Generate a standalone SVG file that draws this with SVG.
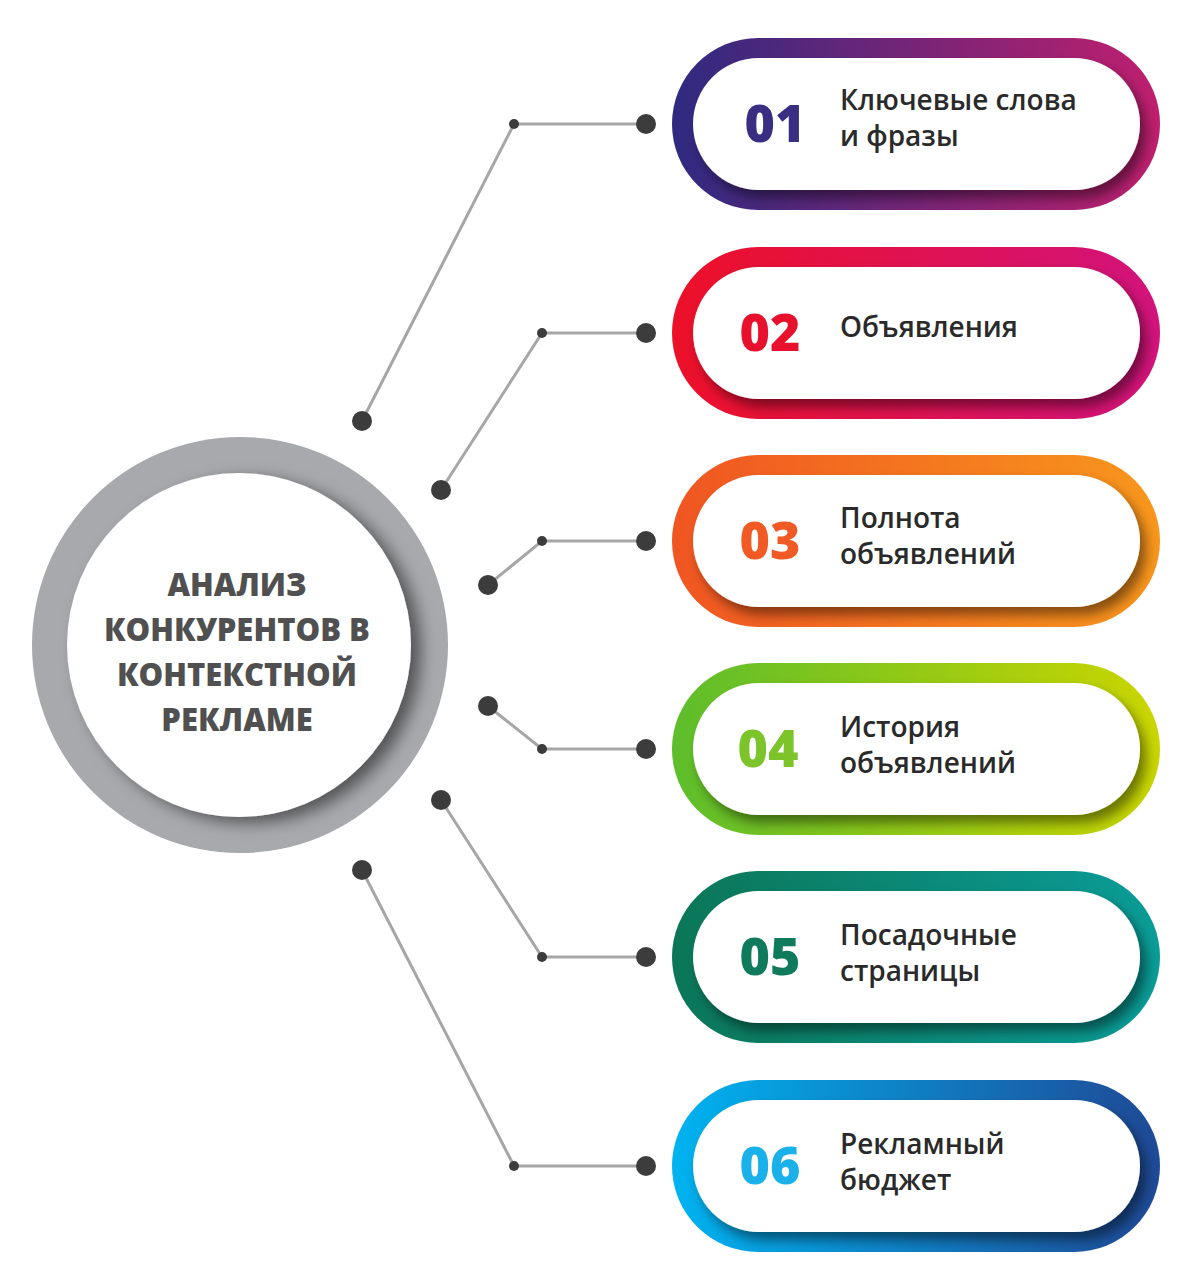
<svg xmlns="http://www.w3.org/2000/svg" width="1200" height="1280" viewBox="0 0 1200 1280">
<defs>
<linearGradient id="g1" x1="0" x2="1"><stop offset="0" stop-color="#2e2a80"/><stop offset="1" stop-color="#c01f6e"/></linearGradient>
<linearGradient id="g2" x1="0" x2="1"><stop offset="0" stop-color="#ec1028"/><stop offset="1" stop-color="#d2137c"/></linearGradient>
<linearGradient id="g3" x1="0" x2="1"><stop offset="0" stop-color="#f05522"/><stop offset="1" stop-color="#f8971c"/></linearGradient>
<linearGradient id="g4" x1="0" x2="1"><stop offset="0" stop-color="#5dbd2b"/><stop offset="1" stop-color="#cad600"/></linearGradient>
<linearGradient id="g5" x1="0" x2="1"><stop offset="0" stop-color="#0b7657"/><stop offset="1" stop-color="#0a9c98"/></linearGradient>
<linearGradient id="g6" x1="0" x2="1"><stop offset="0" stop-color="#00b3f0"/><stop offset="1" stop-color="#1f4996"/></linearGradient>
<filter id="sh" x="-20%" y="-30%" width="140%" height="160%"><feDropShadow dx="6" dy="8" stdDeviation="6" flood-color="#000" flood-opacity="0.45"/></filter>
<filter id="csh" x="-20%" y="-20%" width="140%" height="140%"><feDropShadow dx="10" dy="6" stdDeviation="8" flood-color="#000" flood-opacity="0.5"/></filter>
</defs>
<style>
.num{font-family:"Open Sans","Liberation Sans",sans-serif;font-weight:800;font-size:52px;text-anchor:middle}
.lbl{font-family:"Open Sans","Liberation Sans",sans-serif;font-weight:600;font-size:28px;fill:#2a2a2a}
.ln{stroke:#a6a6a8;stroke-width:3;fill:none}
.dot{fill:#3c3c3c}
.ctr{font-family:"Open Sans","Liberation Sans",sans-serif;font-weight:800;font-size:31px;fill:#505050;text-anchor:middle}
</style>
<g id="center">
<circle cx="240" cy="645" r="208" fill="#a8a9ac"/>
<circle cx="239" cy="645" r="172" fill="#fff" filter="url(#csh)"/>
<text class="ctr" x="237" y="596">АНАЛИЗ</text>
<text class="ctr" x="237" y="641">КОНКУРЕНТОВ В</text>
<text class="ctr" x="237" y="686">КОНТЕКСТНОЙ</text>
<text class="ctr" x="237" y="731">РЕКЛАМЕ</text>
</g>
<g id="connectors">
<polyline class="ln" points="646,124 514,124 362,421"/>
<polyline class="ln" points="646,333 542,333 441,490"/>
<polyline class="ln" points="646,541 542,541 488,585"/>
<polyline class="ln" points="646,749 542,749 488,706"/>
<polyline class="ln" points="646,957 542,957 441,800"/>
<polyline class="ln" points="646,1166 514,1166 362,870"/>
<g class="dot">
<circle cx="646" cy="124" r="10"/><circle cx="514" cy="124" r="5"/><circle cx="362" cy="421" r="10"/>
<circle cx="646" cy="333" r="10"/><circle cx="542" cy="333" r="5"/><circle cx="441" cy="490" r="10"/>
<circle cx="646" cy="541" r="10"/><circle cx="542" cy="541" r="5"/><circle cx="488" cy="585" r="10"/>
<circle cx="646" cy="749" r="10"/><circle cx="542" cy="749" r="5"/><circle cx="488" cy="706" r="10"/>
<circle cx="646" cy="957" r="10"/><circle cx="542" cy="957" r="5"/><circle cx="441" cy="800" r="10"/>
<circle cx="646" cy="1166" r="10"/><circle cx="514" cy="1166" r="5"/><circle cx="362" cy="870" r="10"/>
</g>
</g>
<g id="n1">
<rect x="672" y="38" width="488" height="172" rx="86" fill="url(#g1)"/>
<rect x="693" y="58" width="447" height="132" rx="66" fill="#fff" filter="url(#sh)"/>
<text class="num" x="775" y="142" fill="#3a2e82">01</text>
<text class="lbl" x="840" y="110">Ключевые слова</text><text class="lbl" x="840" y="146">и фразы</text>
</g>
<g id="n2">
<rect x="672" y="247" width="488" height="172" rx="86" fill="url(#g2)"/>
<rect x="693" y="267" width="447" height="132" rx="66" fill="#fff" filter="url(#sh)"/>
<text class="num" x="770" y="351" fill="#e8112d">02</text>
<text class="lbl" x="840" y="337">Объявления</text>
</g>
<g id="n3">
<rect x="672" y="455" width="488" height="172" rx="86" fill="url(#g3)"/>
<rect x="693" y="475" width="447" height="132" rx="66" fill="#fff" filter="url(#sh)"/>
<text class="num" x="770" y="559" fill="#f15a24">03</text>
<text class="lbl" x="840" y="528">Полнота</text><text class="lbl" x="840" y="564">объявлений</text>
</g>
<g id="n4">
<rect x="672" y="663" width="488" height="172" rx="86" fill="url(#g4)"/>
<rect x="693" y="683" width="447" height="132" rx="66" fill="#fff" filter="url(#sh)"/>
<text class="num" x="768" y="767" fill="#7cc42a">04</text>
<text class="lbl" x="840" y="737">История</text><text class="lbl" x="840" y="773">объявлений</text>
</g>
<g id="n5">
<rect x="672" y="871" width="488" height="172" rx="86" fill="url(#g5)"/>
<rect x="693" y="891" width="447" height="132" rx="66" fill="#fff" filter="url(#sh)"/>
<text class="num" x="770" y="975" fill="#0f7a5c">05</text>
<text class="lbl" x="840" y="945">Посадочные</text><text class="lbl" x="840" y="981">страницы</text>
</g>
<g id="n6">
<rect x="672" y="1080" width="488" height="172" rx="86" fill="url(#g6)"/>
<rect x="693" y="1100" width="447" height="132" rx="66" fill="#fff" filter="url(#sh)"/>
<text class="num" x="770" y="1184" fill="#1ab0ea">06</text>
<text class="lbl" x="840" y="1154">Рекламный</text><text class="lbl" x="840" y="1190">бюджет</text>
</g>
</svg>
